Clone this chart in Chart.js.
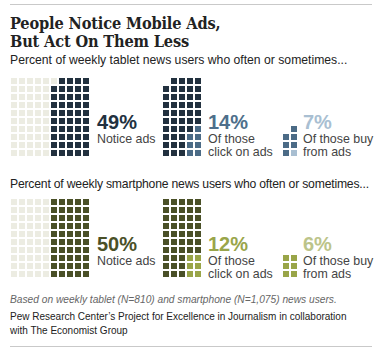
<!DOCTYPE html>
<html>
<head>
<meta charset="utf-8">
<script src="https://cdn.jsdelivr.net/npm/chart.js@4"></script>
<style>
  body { margin: 0; width: 380px; height: 351px; background: #fff; position: relative; overflow: hidden; font-family: "Liberation Sans", Arial, sans-serif; }
  .abs { position: absolute; white-space: nowrap; }
  .rule { position: absolute; left: 10px; width: 362px; height: 1px; background: #c9c9c9; }
  .title { left: 10px; top: 15px; font-family: "DejaVu Serif", serif; font-stretch: condensed; font-weight: bold; font-size: 16.2px; line-height: 18px; color: #222; letter-spacing: -0.15px; }
  .sub { left: 10px; font-size: 12.2px; line-height: 15px; color: #222; }
  .pct { font-size: 20px; line-height: 20px; font-weight: bold; }
  .lbl { font-size: 12.4px; line-height: 13px; color: #444; }
  .note { left: 10px; font-size: 10.2px; line-height: 12px; font-style: italic; color: #666; }
  .src { left: 10px; font-size: 10px; line-height: 13.5px; color: #222; }
  canvas { position: absolute; }
</style>
</head>
<body>
<div class="rule" style="top:4px"></div>
<div class="abs title">People Notice Mobile Ads,<br>But Act On Them Less</div>
<div class="abs sub" style="top:53px">Percent of weekly tablet news users who often or sometimes...</div>
<div class="abs sub" style="top:177px;letter-spacing:-0.2px">Percent of weekly smartphone news users who often or sometimes...</div>
<div id="labels"></div>
<canvas id="tabletChart" width="296" height="80" style="left:10px;top:77px"></canvas>
<canvas id="phoneChart" width="296" height="80" style="left:10px;top:198px"></canvas>
<div class="abs note" style="top:294px">Based on weekly tablet (N=810) and smartphone (N=1,075) news users.</div>
<div class="abs src" style="top:310px">Pew Research Center’s Project for Excellence in Journalism in collaboration<br>with The Economist Group</div>
<div class="rule" style="top:346px"></div>

<script>
// values
const devices = ['tablet', 'smartphone'];
const noticePct = [49, 50];
const clickPct = [14, 12];
const buyPct = [7, 6];
// squares shown in each waffle
const noticeCells = [49, 50];   // out of 100
const clickCells = [7, 6];      // of the notice squares
const buyCells = [1, 0];        // of the click squares

const palette = {
  tablet: { dark: '#22313f', mid: '#4b6b86', light: '#a8bed1', midText: '#4e6f8b', lightText: '#a9bfd2' },
  smartphone: { dark: '#4a5027', mid: '#99a548', light: '#c3ca8e', midText: '#99a54a', lightText: '#bcc48a' }
};
const emptyColor = '#ecece2';

const wafflePos = [0, 19, 34];   // first column of each waffle
const rows = 10;

function key(p) { return p.x + ',' + p.y; }

// cells stacked from the bottom row up, right to left
function stack(count, width, col0) {
  const pts = [];
  for (let k = 0; k < count; k++) {
    pts.push({ x: col0 + width - 1 - (k % width), y: rows - 1 - Math.floor(k / width) });
  }
  return pts;
}

function buildDatasets(i) {
  const col = palette[devices[i]];
  const empty = [], notice = [];
  for (let k = 0; k < 100; k++) {
    const p = { x: wafflePos[0] + Math.floor(k / rows), y: k % rows };
    (k >= 100 - noticeCells[i] ? notice : empty).push(p);
  }
  const clickShape = stack(clickCells[i], 2, wafflePos[1] + 3);
  const clickKeys = new Set(clickShape.map(key));
  const rest = stack(noticeCells[i], 5, wafflePos[1]).filter(p => !clickKeys.has(key(p)));
  const third = stack(clickCells[i], 2, wafflePos[2]);
  const buy = third.slice(0, buyCells[i]);
  const noBuy = third.slice(buyCells[i]);

  // 'rect' points: side = radius * sqrt(2), so 3*sqrt(2) gives 6px squares on an 8px grid
  const r = 3 * Math.SQRT2;
  const ds = (data, color) => ({
    data: data, backgroundColor: color, pointStyle: 'rect',
    pointRadius: r, pointHoverRadius: r,
    pointBorderWidth: 0, pointHoverBorderWidth: 0, borderWidth: 0
  });
  return [ds(empty, emptyColor), ds(notice, col.dark), ds(rest, col.dark),
          ds(clickShape, col.mid), ds(noBuy, col.mid), ds(buy, col.light)];
}

function createWaffle(canvasId, i) {
  const canvas = document.getElementById(canvasId);
  return new Chart(canvas.getContext('2d'), {
    type: 'scatter',
    data: { datasets: buildDatasets(i) },
    options: {
      responsive: false,
      animation: false,
      events: [],
      layout: { padding: 0, autoPadding: false },
      plugins: { legend: { display: false }, tooltip: { enabled: false } },
      scales: {
        x: { type: 'linear', display: false, min: -0.5, max: canvas.width / 8 - 0.5 },
        y: { type: 'linear', display: false, min: -0.5, max: rows - 0.5, reverse: true }
      }
    }
  });
}

// text next to the waffles
function addLabels() {
  const holder = document.getElementById('labels');
  const tops = [112, 234];
  const lblX = [97, 208, 303];
  devices.forEach((d, i) => {
    const col = palette[d];
    const items = [
      [noticePct[i], col.dark, 'Notice ads', lblX[0]],
      [clickPct[i], col.midText, 'Of those<br>click on ads', lblX[1]],
      [buyPct[i], col.lightText, 'Of those buy<br>from ads', lblX[2]]
    ];
    items.forEach(([v, c, text, x]) => {
      holder.insertAdjacentHTML('beforeend',
        `<div class="abs pct" style="left:${x}px;top:${tops[i]}px;color:${c}">${v}%</div>` +
        `<div class="abs lbl" style="left:${x}px;top:${tops[i] + 20.5}px">${text}</div>`);
    });
  });
}

addLabels();
createWaffle('tabletChart', 0);
createWaffle('phoneChart', 1);
</script>
</body>
</html>
